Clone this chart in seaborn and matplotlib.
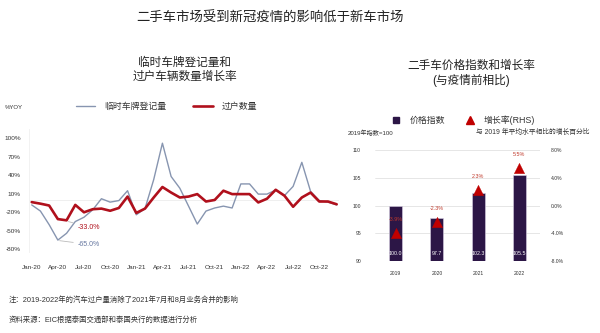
import matplotlib
matplotlib.use("Agg")
import matplotlib.pyplot as plt
import matplotlib.ticker as mticker
from matplotlib.lines import Line2D
import numpy as np
import pandas as pd
import seaborn as sns

sns.set_theme(style="white")
plt.rcParams['font.family'] = ['Liberation Sans', 'Noto Sans CJK SC', 'DejaVu Sans']
plt.rcParams['axes.unicode_minus'] = False

# ---------------- data ----------------
months = pd.date_range("2020-01-01", periods=36, freq="MS").strftime("%b-%y").tolist()
temp_plates = [-8, -18, -40, -65, -54, -35, -28, -16, 2, -3.5, -1, 15,
               -24, -14, 33, 92, 38, 19, -10, -39, -18, -13, -10, -13,
               26, 26, 9.5, 9.5, 16, 7, 22, 61, 14, -1, -3.5, -8]
transfers = [-3.5, -6, -9, -31, -33, -8, -20, -15, -14, -17.5, -13, 5.5,
             -21, -14, 4, 21, 12, 4, 5.5, 9.5, -2.5, 0, 15, 9.5,
             9.5, 9.5, -4, 2, 16.5, 7, -11, 4, 12, -2.5, -2.5, -7]
tick_labels = ["Jan-20", "Apr-20", "Jul-20", "Oct-20", "Jan-21", "Apr-21",
               "Jul-21", "Oct-21", "Jan-22", "Apr-22", "Jul-22", "Oct-22"]

years = ["2019", "2020", "2021", "2022"]
price_index = [100.0, 97.7, 102.3, 105.5]
growth_rate = [-3.9, -2.3, 2.3, 5.5]

series_names = ["临时车牌登记量", "过户数量"]

BLUE = "#8795b0"
RED = "#b0101c"
PURPLE = "#2c1646"
TRI = "#c00000"

df = pd.DataFrame({"m": np.arange(len(months)),
                   series_names[0]: temp_plates,
                   series_names[1]: transfers})
long = df.melt(id_vars="m", var_name="series", value_name="v")

fig = plt.figure(figsize=(6, 3.33), dpi=100)

# ---------------- left chart ----------------
axL = fig.add_axes([0.0485, 0.242, 0.517, 0.3706])
sns.lineplot(data=long, x="m", y="v", hue="series", size="series",
             palette={series_names[0]: BLUE, series_names[1]: RED},
             sizes={series_names[0]: 1.0, series_names[1]: 1.9},
             legend=False, ax=axL)
axL.axhline(0, color="#ececec", lw=0.6, zorder=0)
axL.set_xlim(-0.3, 35.3)
axL.set_ylim(-85, 115)
axL.set_yticks([100, 70, 40, 10, -20, -50, -80])
axL.yaxis.set_major_formatter(mticker.FuncFormatter(lambda v, p: f"{v:.0f}%"))
axL.set_xticks(np.arange(0, 36, 3))
axL.set_xticklabels(tick_labels)
axL.tick_params(axis="both", labelsize=4.6, colors="#333333", length=0, pad=2)
axL.tick_params(axis="y", pad=6)
axL.tick_params(axis="x", pad=9)
axL.set_xlabel("")
axL.set_ylabel("")
for s in ["top", "right", "bottom"]:
    axL.spines[s].set_visible(False)
axL.spines["left"].set_color("#f0f0f0")
axL.spines["left"].set_linewidth(0.6)

# annotations
axL.annotate(f"{transfers[4]:.1f}%", xy=(4.2, transfers[4] - 2), xytext=(5.3, -44),
             color=RED, fontsize=5, va="center", ha="left",
             arrowprops=dict(arrowstyle="-", color="#bbbbbb", lw=0.6, shrinkA=1, shrinkB=0))
axL.annotate(f"{temp_plates[3]:.1f}%", xy=(3.2, temp_plates[3] - 1), xytext=(5.3, -72),
             color="#6677a0", fontsize=5, va="center", ha="left",
             arrowprops=dict(arrowstyle="-", color="#bbbbbb", lw=0.6, shrinkA=1, shrinkB=0))

fig.text(0.308, 0.79, "临时车牌登记量和\n过户车辆数量增长率", ha="center", va="center",
         fontsize=8.4, color="#222222", linespacing=1.15)
fig.text(0.008, 0.678, "%YOY", fontsize=4.3, color="#333333", va="center")
handles = [Line2D([], [], color=BLUE, lw=1.0), Line2D([], [], color=RED, lw=1.9)]
fig.legend(handles, series_names, ncol=2, loc="center left",
           bbox_to_anchor=(0.113, 0.680), frameon=False, fontsize=6.4,
           handlelength=2.2, columnspacing=3.0, handletextpad=1.0,
           labelcolor="#333333")

# ---------------- right chart ----------------
axR = fig.add_axes([0.625, 0.2162, 0.275, 0.3327])
bdf = pd.DataFrame({"year": years, "index": price_index})
sns.barplot(data=bdf, x="year", y="index", color=PURPLE, width=0.32,
            edgecolor="#d8d0e4", linewidth=0.4, saturation=1, ax=axR, zorder=2)
axR.set_ylim(90, 110)
axR.set_xlim(-0.5, 3.5)
axR.set_yticks([90, 95, 100, 105, 110])
axR.yaxis.grid(True, color="#dcdcdc", lw=0.5)
axR.set_axisbelow(True)
axR.tick_params(axis="both", labelsize=3.6, colors="#333333", length=0)
axR.tick_params(axis="y", pad=10)
axR.tick_params(axis="x", pad=7)
axR.set_xlabel("")
axR.set_ylabel("")
for s in ["top", "right", "bottom", "left"]:
    axR.spines[s].set_visible(False)
for i, v in enumerate(price_index):
    axR.text(i, 91.3, f"{v:.1f}", ha="center", va="center", color="white", fontsize=3.8, zorder=5)

axR2 = axR.twinx()
gdf = pd.DataFrame({"year": years, "g": growth_rate})
sns.scatterplot(data=gdf, x="year", y="g", marker="^", color=TRI, s=55,
                edgecolor=TRI, linewidth=0.3, ax=axR2, zorder=4)
axR2.set_ylim(-8, 8)
axR2.set_yticks([-8, -4, 0, 4, 8])
axR2.yaxis.set_major_formatter(mticker.FuncFormatter(lambda v, p: f"{v:.1f}%"))
axR2.tick_params(axis="y", labelsize=3.6, colors="#333333", length=0, pad=8)
axR2.set_ylabel("")
for s in ["top", "right", "bottom", "left"]:
    axR2.spines[s].set_visible(False)
for i, g in enumerate(growth_rate):
    axR2.text(i, g + 1.85, f"{g:.1f}%", ha="center", va="center", color="#c0392b",
              fontsize=3.9, zorder=5)

fig.text(0.785, 0.78, "二手车价格指数和增长率\n(与疫情前相比)", ha="center", va="center",
         fontsize=8.4, color="#222222", linespacing=1.15)
fig.text(0.58, 0.601, "2019年指数=100", fontsize=4.4, color="#333333", va="center")
fig.text(0.983, 0.601, "与 2019 年平均水平相比的增长百分比", fontsize=4.9, color="#333333",
         va="center", ha="right")
rh = [Line2D([], [], marker="s", color=PURPLE, ls="", markersize=5),
      Line2D([], [], marker="^", color=TRI, ls="", markersize=6)]
fig.legend(rh, ["价格指数", "增长率(RHS)"], ncol=2, loc="center left",
           bbox_to_anchor=(0.638, 0.64), frameon=False, fontsize=6.4,
           handlelength=1.2, columnspacing=2.2, handletextpad=0.9,
           labelcolor="#333333")

# ---------------- titles & notes ----------------
fig.text(0.45, 0.945, "二手车市场受到新冠疫情的影响低于新车市场", ha="center", va="center",
         fontsize=9.6, color="#222222")
fig.text(0.015, 0.1, "注：2019-2022年的汽车过户量消除了2021年7月和8月业务合并的影响",
         fontsize=5.3, color="#333333", va="center")
fig.text(0.015, 0.04, "资料来源：EIC根据泰国交通部和泰国央行的数据进行分析",
         fontsize=5.3, color="#333333", va="center")

fig.savefig("out.png", dpi=100, facecolor="white")
